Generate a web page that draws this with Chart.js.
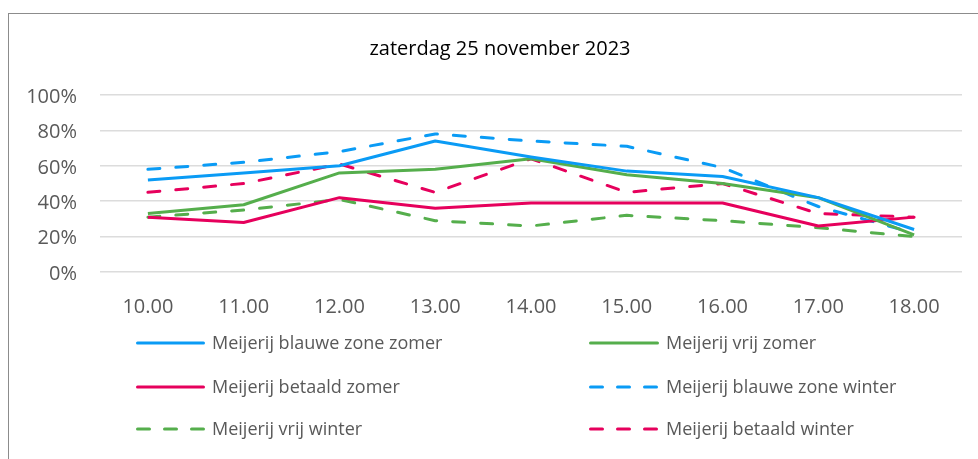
<!DOCTYPE html>
<html>
<head>
<meta charset="utf-8">
<script src="https://cdn.jsdelivr.net/npm/chart.js@4.4.1/dist/chart.umd.min.js"></script>
<style>
  html, body { margin: 0; padding: 0; background: #fff; }
  canvas { display: block; }
</style>
</head>
<body>
<canvas id="chart" width="978" height="459"></canvas>
<script>
// tijdstippen (x-as)
const tijden = ['10.00', '11.00', '12.00', '13.00', '14.00', '15.00', '16.00', '17.00', '18.00'];

// bezettingsgraad in % per reeks
const blauweZoneZomer  = [52, 56, 60, 74, 65, 57, 54, 42, 24];
const vrijZomer        = [33, 38, 56, 58, 64, 55, 50, 42, 21];
const betaaldZomer     = [31, 28, 42, 36, 39, 39, 39, 26, 31];
const blauweZoneWinter = [58, 62, 68, 78, 74, 71, 59, 37, 22];
const vrijWinter       = [31, 35, 41, 29, 26, 32, 29, 25, 20];
const betaaldWinter    = [45, 50, 61, 45, 64, 45, 50, 33, 31];

// y-as ticks
const yTicks = [0, 20, 40, 60, 80, 100];

const BLAUW = '#0a9bf5';
const GROEN = '#55ae4c';
const ROOD  = '#e6005c';
const TEKST = '#595959';
const FONT  = "'Open Sans', sans-serif";
const DASH  = [12, 16];

function reeks(label, data, kleur, gestippeld) {
    return {
        label: label,
        data: data,
        borderColor: kleur,
        backgroundColor: kleur,
        borderWidth: 3,
        borderDash: gestippeld ? DASH : [],
        borderCapStyle: gestippeld ? 'round' : 'butt',
        borderJoinStyle: 'round',
        pointRadius: 0,
        tension: 0,
        fill: false,
    };
}

// kader rond de grafiek, titel gecentreerd op het kader
const kaderPlugin = {
    id: 'kader',
    afterLayout(chart) {
        chart.titleBlock.left = 22;
        chart.titleBlock.right = 978;
    },
    beforeDraw(chart) {
        const ctx = chart.ctx;
        ctx.save();
        ctx.fillStyle = '#fff';
        ctx.fillRect(0, 0, chart.width, chart.height);
        ctx.strokeStyle = '#8c8c8c';
        ctx.lineWidth = 1;
        ctx.strokeRect(8.5, 13.5, chart.width + 20, chart.height + 20);
        ctx.restore();
    },
};

// legenda in twee kolommen onder de grafiek
const legendaPlugin = {
    id: 'legenda2kol',
    afterDraw(chart) {
        const ctx = chart.ctx;
        const kolommen = [{ x1: 136, x2: 205, tx: 212 }, { x1: 589, x2: 659, tx: 666 }];
        const rijen = [343, 387, 429];
        ctx.save();
        chart.data.datasets.forEach((ds, i) => {
            const k = kolommen[i % 2];
            const y = rijen[Math.floor(i / 2)];
            ctx.beginPath();
            ctx.strokeStyle = ds.borderColor;
            ctx.lineWidth = ds.borderWidth;
            ctx.lineCap = 'round';
            ctx.setLineDash(ds.borderDash.length ? [12, 15] : []);
            ctx.moveTo(k.x1 + 1.5, y);
            ctx.lineTo(k.x2 - 1.5, y);
            ctx.stroke();
            ctx.setLineDash([]);
            ctx.fillStyle = TEKST;
            ctx.font = '18px ' + FONT;
            ctx.textBaseline = 'middle';
            ctx.textAlign = 'left';
            ctx.fillText(ds.label, k.tx, y + 1);
        });
        ctx.restore();
    },
};

const ctx = document.getElementById('chart').getContext('2d');
new Chart(ctx, {
    type: 'line',
    data: {
        labels: tijden,
        datasets: [
            reeks('Meijerij blauwe zone zomer', blauweZoneZomer, BLAUW, false),
            reeks('Meijerij vrij zomer', vrijZomer, GROEN, false),
            reeks('Meijerij betaald zomer', betaaldZomer, ROOD, false),
            reeks('Meijerij blauwe zone winter', blauweZoneWinter, BLAUW, true),
            reeks('Meijerij vrij winter', vrijWinter, GROEN, true),
            reeks('Meijerij betaald winter', betaaldWinter, ROOD, true),
        ],
    },
    options: {
        responsive: false,
        animation: false,
        layout: { padding: { left: 0, right: 16, top: 0, bottom: 0 } },
        scales: {
            x: {
                offset: true,
                grid: { display: false, drawTicks: false },
                border: { display: false },
                ticks: { color: TEKST, font: { family: FONT, size: 20 }, padding: 23, maxRotation: 0 },
                afterFit(scale) { scale.height = 187; },
            },
            y: {
                min: 0,
                max: 100,
                afterBuildTicks(scale) { scale.ticks = yTicks.map(v => ({ value: v })); },
                grid: { color: '#dcdcdc', lineWidth: 1.5, drawTicks: false },
                border: { display: false },
                ticks: {
                    color: TEKST,
                    font: { family: FONT, size: 20 },
                    padding: 23,
                    labelOffset: 2,
                    callback: (v) => v + '%',
                },
                afterFit(scale) { scale.width = 100; },
            },
        },
        plugins: {
            legend: { display: false },
            tooltip: { enabled: false },
            title: {
                display: true,
                text: 'zaterdag 25 november 2023',
                color: '#000',
                font: { family: FONT, size: 20, weight: 'normal' },
                padding: { top: 37, bottom: 34 },
            },
        },
    },
    plugins: [kaderPlugin, legendaPlugin],
});
</script>
</body>
</html>
